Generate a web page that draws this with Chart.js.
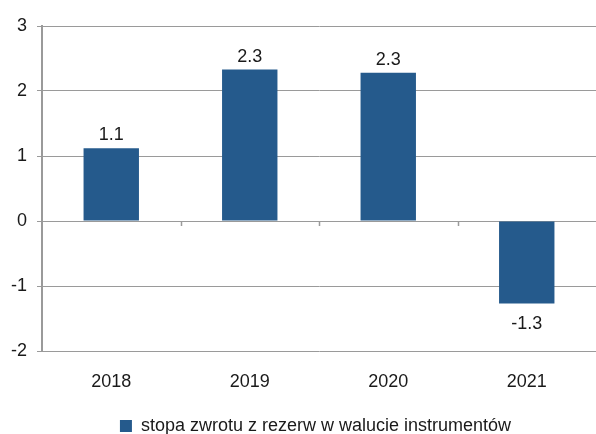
<!DOCTYPE html>
<html>
<head>
<meta charset="utf-8">
<script src="https://cdn.jsdelivr.net/npm/chart.js@4/dist/chart.umd.min.js"></script>
<style>
  html, body { margin: 0; padding: 0; background: #fff; }
  #wrap { width: 596px; height: 434px; position: relative; }
</style>
</head>
<body>
<div id="wrap"><canvas id="chart-display"></canvas></div>
<script>
var years = ['2018', '2019', '2020', '2021'];
var returns = [1.12, 2.33, 2.28, -1.27];
var seriesName = 'stopa zwrotu z rezerw w walucie instrumentów';
var yTicks = [-2, -1, 0, 1, 2, 3];

var barColor = '#255a8c';
var gridColor = '#9a9a9a';
var textFont = { family: 'Liberation Sans, Arial, sans-serif', size: 18 };

// value labels above / below bars
var valueLabels = {
    id: 'valueLabels',
    afterDatasetsDraw: function(chart) {
        var c = chart.ctx;
        var meta = chart.getDatasetMeta(0);
        c.save();
        c.font = '18px Liberation Sans, Arial, sans-serif';
        c.fillStyle = '#1a1a1a';
        c.textAlign = 'center';
        meta.data.forEach(function(bar, i) {
            var v = returns[i];
            if (v >= 0) {
                c.textBaseline = 'bottom';
                c.fillText(v.toFixed(1), bar.x, bar.y - 4);
            } else {
                c.textBaseline = 'top';
                c.fillText(v.toFixed(1), bar.x, bar.y + 11);
            }
        });
        c.restore();
    }
};

// small tick marks on the zero line between categories
var zeroTicks = {
    id: 'zeroTicks',
    afterDraw: function(chart) {
        var c = chart.ctx;
        var x = chart.scales.x, y = chart.scales.y;
        var y0 = y.getPixelForValue(0);
        var step = x.getPixelForValue(1) - x.getPixelForValue(0);
        c.save();
        c.strokeStyle = gridColor;
        c.lineWidth = 1.5;
        for (var i = 0; i < years.length - 1; i++) {
            var px = Math.round(x.getPixelForValue(i) + step / 2) + 0.5;
            c.beginPath();
            c.moveTo(px, y0);
            c.lineTo(px, y0 + 5);
            c.stroke();
        }
        c.restore();
    }
};

// legend is centred under the plot area, not the whole canvas
var legendShift = {
    id: 'legendShift',
    afterLayout: function(chart) {
        chart.legend.left += 17;
        chart.legend.right += 17;
    }
};

new Chart(document.getElementById('chart-display'), {
    type: 'bar',
    data: {
        labels: years,
        datasets: [{
            label: seriesName,
            data: returns,
            backgroundColor: barColor,
            borderWidth: 0,
            categoryPercentage: 0.8,
            barPercentage: 0.5
        }]
    },
    options: {
        responsive: true,
        maintainAspectRatio: false,
        animation: false,
        layout: { padding: { top: 26, right: 0, left: 1, bottom: -11 } },
        plugins: {
            tooltip: { enabled: false },
            legend: {
                position: 'bottom',
                labels: {
                    color: '#1a1a1a',
                    font: textFont,
                    boxWidth: 12,
                    boxHeight: 12,
                    padding: 2
                }
            }
        },
        scales: {
            x: {
                grid: { display: false, drawTicks: false },
                border: { display: false },
                ticks: { color: '#1a1a1a', font: textFont, padding: 20 },
                afterFit: function(axis) { axis.height = 64; }
            },
            y: {
                min: -2,
                max: 3,
                afterBuildTicks: function(axis) {
                    axis.ticks = yTicks.map(function(v) { return { value: v }; });
                },
                grid: { color: gridColor, lineWidth: 1, tickLength: 5 },
                border: { color: gridColor, width: 2 },
                ticks: { color: '#1a1a1a', font: textFont, padding: 10 }
            }
        }
    },
    plugins: [valueLabels, zeroTicks, legendShift]
});
</script>
</body>
</html>
